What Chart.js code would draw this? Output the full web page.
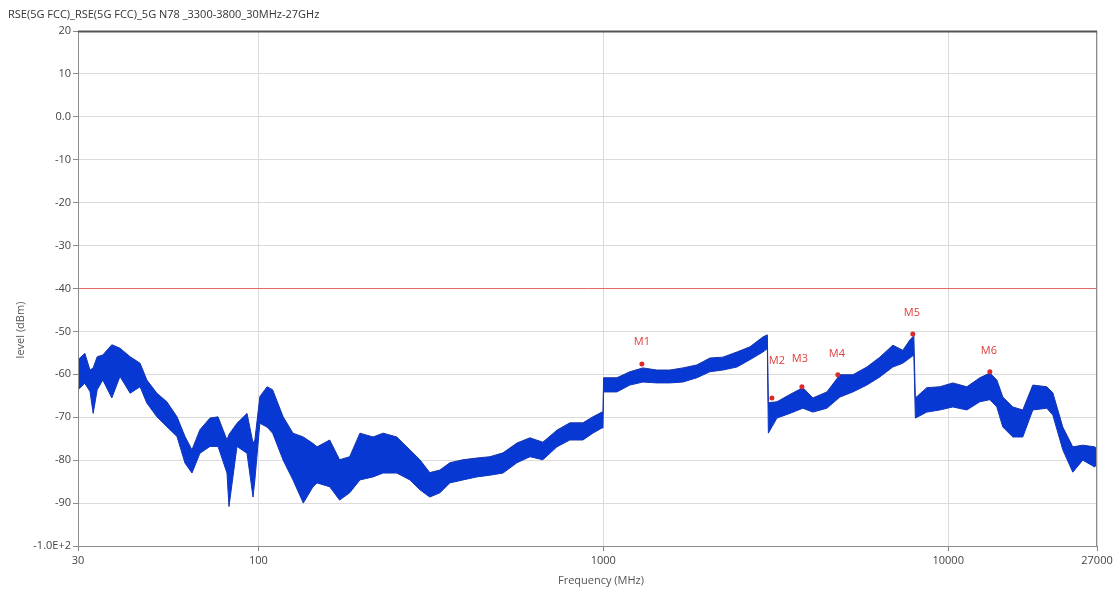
<!DOCTYPE html>
<html>
<head>
<meta charset="utf-8">
<script src="https://cdn.jsdelivr.net/npm/chart.js@4.4.1/dist/chart.umd.min.js"></script>
<style>
  html, body { margin: 0; padding: 0; background: #fff; }
</style>
</head>
<body>
<canvas id="rseChart" width="1117" height="593"></canvas>
<script>
// chart texts
const chartTitle = "RSE(5G FCC)_RSE(5G FCC)_5G N78 _3300-3800_30MHz-27GHz";
const xTitle = "Frequency (MHz)";
const yTitle = "level (dBm)";

// trace: upper and lower edge of the noise band (MHz / dBm)
const freqs = [30, 31.4, 32.5, 33.2, 34.1, 35.4, 37.6, 39.7, 42.5, 45.4, 47.5, 50.8, 54.3, 58.1, 61.3, 64.2, 67.7, 72.4, 76.4, 81.1, 82.2, 86.7, 92.7, 96.5, 97.7,
  101, 106, 110, 118, 126, 135, 144, 148, 161, 172, 184, 197, 215, 230, 252, 275, 294, 314, 336, 359, 392, 430, 469, 512, 562, 613, 668, 734, 800, 873, 933, 991, 998,
  1002, 1095, 1194, 1303, 1431, 1560, 1701, 1868, 2037, 2222, 2440, 2661, 2902, 2990,
  3010, 3187, 3475, 3789, 4051, 4449, 4852, 5292, 5809, 6336, 6910, 7387, 7740, 7950,
  8030, 8671, 9456, 10314, 11326, 12351, 13204, 13835, 14400, 15393, 16452, 17589, 19314, 20103, 21489, 22971, 24555, 26607, 27000];
const topLevel = [-56.6, -55.1, -59.0, -58.5, -55.9, -55.5, -53.1, -53.9, -55.9, -57.4, -61.3, -64.4, -66.4, -69.9, -74.5, -77.6, -72.9, -70.2, -69.9, -75.3, -74.0, -71.4, -69.1, -76.0, -75.3,
  -65.2, -62.9, -63.6, -69.9, -73.7, -74.6, -76.1, -76.9, -75.3, -79.9, -79.2, -73.7, -74.6, -73.7, -74.6, -77.6, -79.9, -82.9, -82.3, -80.6, -79.9, -79.5, -79.2, -78.3, -76.0, -74.8, -75.8, -73.0, -71.3, -71.3, -69.9, -68.8, -68.8,
  -60.8, -60.8, -59.4, -58.5, -59.0, -59.0, -58.5, -57.8, -56.2, -56.0, -54.8, -53.6, -51.3, -50.8,
  -66.6, -66.4, -64.7, -63.1, -65.5, -64.1, -60.1, -60.1, -58.3, -56.0, -53.2, -54.4, -52.0, -51.0,
  -65.5, -63.1, -62.9, -62.0, -62.9, -60.8, -59.7, -61.3, -65.3, -67.6, -68.3, -62.5, -62.9, -64.3, -72.3, -76.9, -76.5, -76.9, -77.5];
const bottomLevel = [-63.6, -62.1, -64.0, -69.1, -63.6, -61.3, -65.5, -60.5, -64.4, -62.9, -66.7, -69.9, -72.2, -74.5, -80.7, -83.0, -78.4, -76.8, -76.8, -83.0, -90.8, -76.8, -78.4, -88.6, -84.6,
  -71.4, -72.3, -73.7, -80.0, -84.6, -90.0, -86.2, -85.3, -86.2, -89.3, -87.6, -84.6, -83.9, -83.0, -83.0, -84.6, -86.9, -88.6, -87.6, -85.3, -84.6, -83.9, -83.5, -83.0, -80.6, -79.2, -79.9, -76.9, -75.3, -75.3, -73.7, -72.5, -72.5,
  -64.1, -64.1, -62.5, -61.8, -62.0, -62.0, -61.8, -60.8, -59.4, -59.0, -58.3, -56.6, -54.8, -54.0,
  -73.7, -70.2, -69.1, -67.9, -68.8, -67.9, -65.3, -64.1, -62.5, -60.6, -58.3, -57.4, -56.2, -55.5,
  -70.2, -68.8, -68.3, -67.6, -68.3, -66.4, -65.9, -67.6, -72.3, -74.6, -74.6, -68.3, -67.9, -69.5, -77.6, -82.8, -80.0, -81.6, -80.5];

// limit line
const limitFreqs = [30, 27000];
const limitLevel = [-40, -40];

// markers
const markerNames = ["M1", "M2", "M3", "M4", "M5", "M6"];
const markerFreqs = [1294, 3082, 3766, 4786, 7896, 13204];
const markerLevels = [-57.6, -65.5, -62.9, -60.1, -50.6, -59.4];

// axis ticks
const xTicks = [30, 100, 1000, 10000, 27000];
const yMin = -100, yMax = 20, yStep = 10;

const textFont = "'Open Sans', 'Noto Sans', sans-serif";
const bandFill = "rgb(8, 56, 212)";
const bandEdge = "rgb(22, 52, 168)";

// frame, page title and axis titles
const framePlugin = {
    id: "framePlugin",
    afterDraw(chart) {
        const { ctx, chartArea: a } = chart;
        ctx.save();
        ctx.strokeStyle = "#8c8c8c";
        ctx.lineWidth = 1;
        ctx.strokeRect(a.left + 0.5, a.top + 0.5, a.right - a.left - 1, a.bottom - a.top);
        ctx.strokeStyle = "#555";
        ctx.lineWidth = 2;
        ctx.beginPath();
        ctx.moveTo(a.left, a.top + 0.5);
        ctx.lineTo(a.right, a.top + 0.5);
        ctx.stroke();

        ctx.fillStyle = "#333";
        ctx.font = "11px " + textFont;
        ctx.textBaseline = "middle";
        ctx.textAlign = "left";
        ctx.fillText(chartTitle, 8, 15);

        ctx.fillStyle = "#555";
        ctx.textAlign = "center";
        ctx.fillText(xTitle, 601, 581);

        ctx.translate(21, 330);
        ctx.rotate(-Math.PI / 2);
        ctx.fillText(yTitle, 0, 0);
        ctx.restore();
    }
};

// marker labels, drawn above each marker point
const markerLabelOffsets = [[0, -22], [5, -37], [-2, -28], [-1, -21], [-1, -21], [-1, -21]];
const markerLabelPlugin = {
    id: "markerLabelPlugin",
    afterDatasetsDraw(chart) {
        const meta = chart.getDatasetMeta(0);
        const ctx = chart.ctx;
        ctx.save();
        ctx.fillStyle = "#e03c3c";
        ctx.font = "11px " + textFont;
        ctx.textAlign = "center";
        ctx.textBaseline = "middle";
        meta.data.forEach((pt, i) => {
            const off = markerLabelOffsets[i];
            ctx.fillText(markerNames[i], pt.x + off[0], pt.y + off[1]);
        });
        ctx.restore();
    }
};

const ctx = document.getElementById("rseChart").getContext("2d");

new Chart(ctx, {
    type: "line",
    data: {
        datasets: [
            {
                label: "Markers",
                data: markerFreqs.map((f, i) => ({ x: f, y: markerLevels[i] })),
                showLine: false,
                pointRadius: 2.5,
                pointBackgroundColor: "#d92b2b",
                pointBorderColor: "#d92b2b",
                pointBorderWidth: 0
            },
            {
                label: "Limit",
                data: limitFreqs.map((f, i) => ({ x: f, y: limitLevel[i] })),
                borderColor: "#e36a6a",
                borderWidth: 1,
                pointRadius: 0
            },
            {
                label: "Level max",
                data: freqs.map((f, i) => ({ x: f, y: topLevel[i] })),
                borderColor: bandEdge,
                backgroundColor: bandFill,
                borderWidth: 1,
                pointRadius: 0,
                fill: "+1"
            },
            {
                label: "Level min",
                data: freqs.map((f, i) => ({ x: f, y: bottomLevel[i] })),
                borderColor: bandEdge,
                borderWidth: 1,
                pointRadius: 0,
                fill: false
            }
        ]
    },
    options: {
        responsive: false,
        animation: false,
        layout: { padding: { left: 0, right: 20, top: 31, bottom: 0 } },
        plugins: {
            legend: { display: false },
            tooltip: { enabled: false }
        },
        scales: {
            x: {
                type: "logarithmic",
                min: 30,
                max: 27000,
                afterBuildTicks: (scale) => {
                    scale.ticks = xTicks.map(v => ({ value: v }));
                },
                afterFit: (scale) => { scale.height = 47; },
                grid: { color: "#dadada", tickColor: "#888", tickLength: 5 },
                border: { display: false },
                ticks: {
                    color: "#444",
                    font: { family: textFont, size: 11 },
                    padding: 3,
                    maxRotation: 0,
                    autoSkip: false,
                    callback: (v) => String(v)
                }
            },
            y: {
                min: yMin,
                max: yMax,
                afterFit: (scale) => { scale.width = 78; },
                grid: { color: "#dadada", tickColor: "#888", tickLength: 5 },
                border: { display: false },
                ticks: {
                    stepSize: yStep,
                    color: "#444",
                    font: { family: textFont, size: 11 },
                    padding: 2,
                    callback: (v) => v === 0 ? "0.0" : (v === -100 ? "-1.0E+2" : String(v))
                }
            }
        }
    },
    plugins: [framePlugin, markerLabelPlugin]
});
</script>
</body>
</html>
